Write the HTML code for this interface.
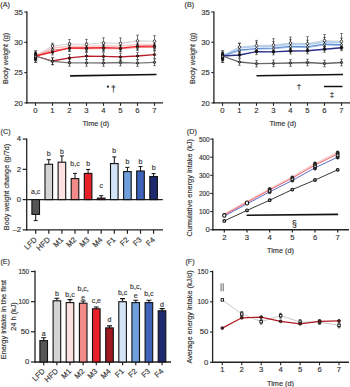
<!DOCTYPE html>
<html><head><meta charset="utf-8"><style>
html,body{margin:0;padding:0;background:#fff;}
svg{display:block;font-family:"Liberation Sans", sans-serif;} text{stroke:#3a3a3a;stroke-width:0.16px;}
</style></head><body>
<svg width="350" height="387" viewBox="0 0 350 387">
<rect width="350" height="387" fill="#fff"/>
<text x="0.30" y="6.90" font-size="7.2" text-anchor="start" fill="#333">(A)</text>
<line x1="26.90" y1="11.40" x2="26.90" y2="103.60" stroke="#222" stroke-width="1.3"/>
<line x1="26.30" y1="102.90" x2="163.00" y2="102.90" stroke="#222" stroke-width="1.4"/>
<line x1="24.30" y1="12.00" x2="26.90" y2="12.00" stroke="#222" stroke-width="1.1"/>
<text x="22.90" y="14.60" font-size="7.7" text-anchor="end" fill="#333">35</text>
<line x1="24.30" y1="42.30" x2="26.90" y2="42.30" stroke="#222" stroke-width="1.1"/>
<text x="22.90" y="44.90" font-size="7.7" text-anchor="end" fill="#333">30</text>
<line x1="24.30" y1="72.60" x2="26.90" y2="72.60" stroke="#222" stroke-width="1.1"/>
<text x="22.90" y="75.20" font-size="7.7" text-anchor="end" fill="#333">25</text>
<line x1="24.30" y1="102.90" x2="26.90" y2="102.90" stroke="#222" stroke-width="1.1"/>
<text x="22.90" y="105.50" font-size="7.7" text-anchor="end" fill="#333">20</text>
<line x1="35.50" y1="103.00" x2="35.50" y2="105.80" stroke="#222" stroke-width="1.1"/>
<text x="35.50" y="112.90" font-size="7.7" text-anchor="middle" fill="#333">0</text>
<line x1="52.50" y1="103.00" x2="52.50" y2="105.80" stroke="#222" stroke-width="1.1"/>
<text x="52.50" y="112.90" font-size="7.7" text-anchor="middle" fill="#333">1</text>
<line x1="69.50" y1="103.00" x2="69.50" y2="105.80" stroke="#222" stroke-width="1.1"/>
<text x="69.50" y="112.90" font-size="7.7" text-anchor="middle" fill="#333">2</text>
<line x1="86.50" y1="103.00" x2="86.50" y2="105.80" stroke="#222" stroke-width="1.1"/>
<text x="86.50" y="112.90" font-size="7.7" text-anchor="middle" fill="#333">3</text>
<line x1="103.50" y1="103.00" x2="103.50" y2="105.80" stroke="#222" stroke-width="1.1"/>
<text x="103.50" y="112.90" font-size="7.7" text-anchor="middle" fill="#333">4</text>
<line x1="120.50" y1="103.00" x2="120.50" y2="105.80" stroke="#222" stroke-width="1.1"/>
<text x="120.50" y="112.90" font-size="7.7" text-anchor="middle" fill="#333">5</text>
<line x1="137.50" y1="103.00" x2="137.50" y2="105.80" stroke="#222" stroke-width="1.1"/>
<text x="137.50" y="112.90" font-size="7.7" text-anchor="middle" fill="#333">6</text>
<line x1="154.50" y1="103.00" x2="154.50" y2="105.80" stroke="#222" stroke-width="1.1"/>
<text x="154.50" y="112.90" font-size="7.7" text-anchor="middle" fill="#333">7</text>
<text x="95.85" y="125.50" font-size="7.7" text-anchor="middle" fill="#333" textLength="26.9" lengthAdjust="spacingAndGlyphs">Time (d)</text>
<text x="8.3" y="58.4" font-size="7.4" text-anchor="middle" fill="#333" textLength="51.3" lengthAdjust="spacingAndGlyphs" transform="rotate(-90 8.3 58.4)">Body weight (g)</text>
<polyline points="35.5,56.0 52.5,46.0 69.5,44.0 86.5,44.3 103.5,43.0 120.5,43.4 137.5,40.9 154.5,41.2" fill="none" stroke="#d8d4d4" stroke-width="1.1"/>
<polyline points="35.5,56.0 52.5,48.0 69.5,46.4 86.5,46.5 103.5,45.8 120.5,46.0 137.5,44.5 154.5,44.8" fill="none" stroke="#f9c8c8" stroke-width="1.6"/>
<polyline points="35.5,56.0 52.5,50.0 69.5,48.5 86.5,48.8 103.5,48.6 120.5,48.8 137.5,47.5 154.5,47.5" fill="none" stroke="#f08a8a" stroke-width="1.0"/>
<polyline points="35.5,56.0 52.5,52.0 69.5,47.9 86.5,48.0 103.5,47.6 120.5,48.2 137.5,46.3 154.5,46.2" fill="none" stroke="#ee2028" stroke-width="1.3"/>
<polyline points="35.5,56.0 52.5,61.0 69.5,57.9 86.5,56.1 103.5,56.4 120.5,56.9 137.5,56.0 154.5,54.6" fill="none" stroke="#b41c28" stroke-width="1.3"/>
<polyline points="35.5,56.0 52.5,61.4 69.5,62.9 86.5,62.9 103.5,63.0 120.5,62.5 137.5,63.1 154.5,62.3" fill="none" stroke="#7a7a7a" stroke-width="1.3"/>
<path d="M52.5,43.2V48.8M51.2,43.2H53.8M51.2,48.8H53.8" stroke="#222" stroke-width="0.6" fill="none"/>
<path d="M69.5,39.5V48.5M68.2,39.5H70.8M68.2,48.5H70.8" stroke="#222" stroke-width="0.6" fill="none"/>
<path d="M86.5,39.4V49.2M85.2,39.4H87.8M85.2,49.2H87.8" stroke="#222" stroke-width="0.6" fill="none"/>
<path d="M103.5,37.8V48.2M102.2,37.8H104.8M102.2,48.2H104.8" stroke="#222" stroke-width="0.6" fill="none"/>
<path d="M120.5,37.9V48.9M119.2,37.9H121.8M119.2,48.9H121.8" stroke="#222" stroke-width="0.6" fill="none"/>
<path d="M137.5,35.1V46.7M136.2,35.1H138.8M136.2,46.7H138.8" stroke="#222" stroke-width="0.6" fill="none"/>
<path d="M154.5,35.7V46.7M153.2,35.7H155.8M153.2,46.7H155.8" stroke="#222" stroke-width="0.6" fill="none"/>
<path d="M52.5,44.5V51.5M51.2,44.5H53.8M51.2,51.5H53.8" stroke="#222" stroke-width="0.6" fill="none"/>
<path d="M69.5,42.9V49.9M68.2,42.9H70.8M68.2,49.9H70.8" stroke="#222" stroke-width="0.6" fill="none"/>
<path d="M86.5,43.0V50.0M85.2,43.0H87.8M85.2,50.0H87.8" stroke="#222" stroke-width="0.6" fill="none"/>
<path d="M103.5,42.3V49.3M102.2,42.3H104.8M102.2,49.3H104.8" stroke="#222" stroke-width="0.6" fill="none"/>
<path d="M120.5,42.5V49.5M119.2,42.5H121.8M119.2,49.5H121.8" stroke="#222" stroke-width="0.6" fill="none"/>
<path d="M137.5,41.0V48.0M136.2,41.0H138.8M136.2,48.0H138.8" stroke="#222" stroke-width="0.6" fill="none"/>
<path d="M154.5,41.3V48.3M153.2,41.3H155.8M153.2,48.3H155.8" stroke="#222" stroke-width="0.6" fill="none"/>
<path d="M52.5,47.0V53.0M51.2,47.0H53.8M51.2,53.0H53.8" stroke="#222" stroke-width="0.6" fill="none"/>
<path d="M69.5,45.5V51.5M68.2,45.5H70.8M68.2,51.5H70.8" stroke="#222" stroke-width="0.6" fill="none"/>
<path d="M86.5,45.8V51.8M85.2,45.8H87.8M85.2,51.8H87.8" stroke="#222" stroke-width="0.6" fill="none"/>
<path d="M103.5,45.6V51.6M102.2,45.6H104.8M102.2,51.6H104.8" stroke="#222" stroke-width="0.6" fill="none"/>
<path d="M120.5,45.8V51.8M119.2,45.8H121.8M119.2,51.8H121.8" stroke="#222" stroke-width="0.6" fill="none"/>
<path d="M137.5,44.5V50.5M136.2,44.5H138.8M136.2,50.5H138.8" stroke="#222" stroke-width="0.6" fill="none"/>
<path d="M154.5,44.5V50.5M153.2,44.5H155.8M153.2,50.5H155.8" stroke="#222" stroke-width="0.6" fill="none"/>
<path d="M52.5,49.0V55.0M51.2,49.0H53.8M51.2,55.0H53.8" stroke="#222" stroke-width="0.6" fill="none"/>
<path d="M69.5,44.9V50.9M68.2,44.9H70.8M68.2,50.9H70.8" stroke="#222" stroke-width="0.6" fill="none"/>
<path d="M86.5,45.0V51.0M85.2,45.0H87.8M85.2,51.0H87.8" stroke="#222" stroke-width="0.6" fill="none"/>
<path d="M103.5,44.6V50.6M102.2,44.6H104.8M102.2,50.6H104.8" stroke="#222" stroke-width="0.6" fill="none"/>
<path d="M120.5,45.2V51.2M119.2,45.2H121.8M119.2,51.2H121.8" stroke="#222" stroke-width="0.6" fill="none"/>
<path d="M137.5,43.3V49.3M136.2,43.3H138.8M136.2,49.3H138.8" stroke="#222" stroke-width="0.6" fill="none"/>
<path d="M154.5,43.2V49.2M153.2,43.2H155.8M153.2,49.2H155.8" stroke="#222" stroke-width="0.6" fill="none"/>
<path d="M52.5,57.4V64.6M51.2,57.4H53.8M51.2,64.6H53.8" stroke="#222" stroke-width="0.6" fill="none"/>
<path d="M69.5,54.3V61.5M68.2,54.3H70.8M68.2,61.5H70.8" stroke="#222" stroke-width="0.6" fill="none"/>
<path d="M86.5,52.5V59.7M85.2,52.5H87.8M85.2,59.7H87.8" stroke="#222" stroke-width="0.6" fill="none"/>
<path d="M103.5,52.8V60.0M102.2,52.8H104.8M102.2,60.0H104.8" stroke="#222" stroke-width="0.6" fill="none"/>
<path d="M120.5,53.3V60.5M119.2,53.3H121.8M119.2,60.5H121.8" stroke="#222" stroke-width="0.6" fill="none"/>
<path d="M137.5,52.4V59.6M136.2,52.4H138.8M136.2,59.6H138.8" stroke="#222" stroke-width="0.6" fill="none"/>
<path d="M154.5,51.0V58.2M153.2,51.0H155.8M153.2,58.2H155.8" stroke="#222" stroke-width="0.6" fill="none"/>
<path d="M52.5,58.1V64.7M51.2,58.1H53.8M51.2,64.7H53.8" stroke="#222" stroke-width="0.6" fill="none"/>
<path d="M69.5,59.6V66.2M68.2,59.6H70.8M68.2,66.2H70.8" stroke="#222" stroke-width="0.6" fill="none"/>
<path d="M86.5,59.6V66.2M85.2,59.6H87.8M85.2,66.2H87.8" stroke="#222" stroke-width="0.6" fill="none"/>
<path d="M103.5,59.7V66.3M102.2,59.7H104.8M102.2,66.3H104.8" stroke="#222" stroke-width="0.6" fill="none"/>
<path d="M120.5,59.2V65.8M119.2,59.2H121.8M119.2,65.8H121.8" stroke="#222" stroke-width="0.6" fill="none"/>
<path d="M137.5,59.8V66.4M136.2,59.8H138.8M136.2,66.4H138.8" stroke="#222" stroke-width="0.6" fill="none"/>
<path d="M154.5,59.0V65.6M153.2,59.0H155.8M153.2,65.6H155.8" stroke="#222" stroke-width="0.6" fill="none"/>
<circle cx="52.5" cy="46.0" r="1.3" fill="#fff" stroke="#111" stroke-width="0.7"/>
<circle cx="69.5" cy="44.0" r="1.3" fill="#fff" stroke="#111" stroke-width="0.7"/>
<circle cx="86.5" cy="44.3" r="1.3" fill="#fff" stroke="#111" stroke-width="0.7"/>
<circle cx="103.5" cy="43.0" r="1.3" fill="#fff" stroke="#111" stroke-width="0.7"/>
<circle cx="120.5" cy="43.4" r="1.3" fill="#fff" stroke="#111" stroke-width="0.7"/>
<circle cx="137.5" cy="40.9" r="1.3" fill="#fff" stroke="#111" stroke-width="0.7"/>
<circle cx="154.5" cy="41.2" r="1.3" fill="#fff" stroke="#111" stroke-width="0.7"/>
<circle cx="52.5" cy="50.0" r="1.0" fill="#fff" stroke="#111" stroke-width="0.7"/>
<circle cx="69.5" cy="48.5" r="1.0" fill="#fff" stroke="#111" stroke-width="0.7"/>
<circle cx="86.5" cy="48.8" r="1.0" fill="#fff" stroke="#111" stroke-width="0.7"/>
<circle cx="103.5" cy="48.6" r="1.0" fill="#fff" stroke="#111" stroke-width="0.7"/>
<circle cx="120.5" cy="48.8" r="1.0" fill="#fff" stroke="#111" stroke-width="0.7"/>
<circle cx="137.5" cy="47.5" r="1.0" fill="#fff" stroke="#111" stroke-width="0.7"/>
<circle cx="154.5" cy="47.5" r="1.0" fill="#fff" stroke="#111" stroke-width="0.7"/>
<circle cx="52.5" cy="52.0" r="1.2" fill="#5a1015" stroke="#111" stroke-width="0.7"/>
<circle cx="69.5" cy="47.9" r="1.2" fill="#5a1015" stroke="#111" stroke-width="0.7"/>
<circle cx="86.5" cy="48.0" r="1.2" fill="#5a1015" stroke="#111" stroke-width="0.7"/>
<circle cx="103.5" cy="47.6" r="1.2" fill="#5a1015" stroke="#111" stroke-width="0.7"/>
<circle cx="120.5" cy="48.2" r="1.2" fill="#5a1015" stroke="#111" stroke-width="0.7"/>
<circle cx="137.5" cy="46.3" r="1.2" fill="#5a1015" stroke="#111" stroke-width="0.7"/>
<circle cx="154.5" cy="46.2" r="1.2" fill="#5a1015" stroke="#111" stroke-width="0.7"/>
<circle cx="52.5" cy="61.0" r="1.2" fill="#7a1018" stroke="#111" stroke-width="0.7"/>
<circle cx="69.5" cy="57.9" r="1.2" fill="#7a1018" stroke="#111" stroke-width="0.7"/>
<circle cx="86.5" cy="56.1" r="1.2" fill="#7a1018" stroke="#111" stroke-width="0.7"/>
<circle cx="103.5" cy="56.4" r="1.2" fill="#7a1018" stroke="#111" stroke-width="0.7"/>
<circle cx="120.5" cy="56.9" r="1.2" fill="#7a1018" stroke="#111" stroke-width="0.7"/>
<circle cx="137.5" cy="56.0" r="1.2" fill="#7a1018" stroke="#111" stroke-width="0.7"/>
<circle cx="154.5" cy="54.6" r="1.2" fill="#7a1018" stroke="#111" stroke-width="0.7"/>
<circle cx="52.5" cy="61.4" r="1.2" fill="#777" stroke="#111" stroke-width="0.7"/>
<circle cx="69.5" cy="62.9" r="1.2" fill="#777" stroke="#111" stroke-width="0.7"/>
<circle cx="86.5" cy="62.9" r="1.2" fill="#777" stroke="#111" stroke-width="0.7"/>
<circle cx="103.5" cy="63.0" r="1.2" fill="#777" stroke="#111" stroke-width="0.7"/>
<circle cx="120.5" cy="62.5" r="1.2" fill="#777" stroke="#111" stroke-width="0.7"/>
<circle cx="137.5" cy="63.1" r="1.2" fill="#777" stroke="#111" stroke-width="0.7"/>
<circle cx="154.5" cy="62.3" r="1.2" fill="#777" stroke="#111" stroke-width="0.7"/>
<path d="M35.6,50.9V62.3M34.0,50.9H37.2M34.0,62.3H37.2" stroke="#222" stroke-width="0.9" fill="none"/>
<rect x="34.0" y="52.0" width="3.2" height="9.2" rx="1.4" fill="#1a1a1a"/>
<circle cx="35.6" cy="56.4" r="0.8" fill="#999"/>
<line x1="70.10" y1="75.90" x2="156.50" y2="74.50" stroke="#111" stroke-width="1.6"/>
<circle cx="107.9" cy="86.7" r="1.1" fill="#222"/>
<text x="113.40" y="91.90" font-size="8.6" text-anchor="middle" fill="#222">†</text>
<text x="184.60" y="6.90" font-size="7.2" text-anchor="start" fill="#333">(B)</text>
<line x1="213.90" y1="11.40" x2="213.90" y2="103.60" stroke="#222" stroke-width="1.3"/>
<line x1="213.30" y1="102.90" x2="350.00" y2="102.90" stroke="#222" stroke-width="1.4"/>
<line x1="211.30" y1="12.00" x2="213.90" y2="12.00" stroke="#222" stroke-width="1.1"/>
<text x="209.90" y="14.60" font-size="7.7" text-anchor="end" fill="#333">35</text>
<line x1="211.30" y1="42.30" x2="213.90" y2="42.30" stroke="#222" stroke-width="1.1"/>
<text x="209.90" y="44.90" font-size="7.7" text-anchor="end" fill="#333">30</text>
<line x1="211.30" y1="72.60" x2="213.90" y2="72.60" stroke="#222" stroke-width="1.1"/>
<text x="209.90" y="75.20" font-size="7.7" text-anchor="end" fill="#333">25</text>
<line x1="211.30" y1="102.90" x2="213.90" y2="102.90" stroke="#222" stroke-width="1.1"/>
<text x="209.90" y="105.50" font-size="7.7" text-anchor="end" fill="#333">20</text>
<line x1="222.50" y1="103.00" x2="222.50" y2="105.80" stroke="#222" stroke-width="1.1"/>
<text x="222.50" y="112.90" font-size="7.7" text-anchor="middle" fill="#333">0</text>
<line x1="239.50" y1="103.00" x2="239.50" y2="105.80" stroke="#222" stroke-width="1.1"/>
<text x="239.50" y="112.90" font-size="7.7" text-anchor="middle" fill="#333">1</text>
<line x1="256.50" y1="103.00" x2="256.50" y2="105.80" stroke="#222" stroke-width="1.1"/>
<text x="256.50" y="112.90" font-size="7.7" text-anchor="middle" fill="#333">2</text>
<line x1="273.50" y1="103.00" x2="273.50" y2="105.80" stroke="#222" stroke-width="1.1"/>
<text x="273.50" y="112.90" font-size="7.7" text-anchor="middle" fill="#333">3</text>
<line x1="290.50" y1="103.00" x2="290.50" y2="105.80" stroke="#222" stroke-width="1.1"/>
<text x="290.50" y="112.90" font-size="7.7" text-anchor="middle" fill="#333">4</text>
<line x1="307.50" y1="103.00" x2="307.50" y2="105.80" stroke="#222" stroke-width="1.1"/>
<text x="307.50" y="112.90" font-size="7.7" text-anchor="middle" fill="#333">5</text>
<line x1="324.50" y1="103.00" x2="324.50" y2="105.80" stroke="#222" stroke-width="1.1"/>
<text x="324.50" y="112.90" font-size="7.7" text-anchor="middle" fill="#333">6</text>
<line x1="341.50" y1="103.00" x2="341.50" y2="105.80" stroke="#222" stroke-width="1.1"/>
<text x="341.50" y="112.90" font-size="7.7" text-anchor="middle" fill="#333">7</text>
<text x="282.85" y="125.50" font-size="7.7" text-anchor="middle" fill="#333" textLength="26.9" lengthAdjust="spacingAndGlyphs">Time (d)</text>
<text x="195.10000000000002" y="58.4" font-size="7.4" text-anchor="middle" fill="#333" textLength="51.3" lengthAdjust="spacingAndGlyphs" transform="rotate(-90 195.10000000000002 58.4)">Body weight (g)</text>
<polyline points="222.5,56.0 239.5,47.0 256.5,45.6 273.5,45.2 290.5,43.0 307.5,43.7 324.5,40.6 341.5,41.4" fill="none" stroke="#d4d4d4" stroke-width="1.2"/>
<polyline points="222.5,56.0 239.5,47.8 256.5,46.4 273.5,46.0 290.5,44.0 307.5,44.5 324.5,41.8 341.5,42.4" fill="none" stroke="#b4d0f0" stroke-width="1.8"/>
<polyline points="222.5,56.0 239.5,50.0 256.5,48.6 273.5,48.2 290.5,46.4 307.5,46.9 324.5,44.2 341.5,44.7" fill="none" stroke="#5a88d0" stroke-width="1.2"/>
<polyline points="222.5,56.0 239.5,50.8 256.5,49.2 273.5,48.8 290.5,47.2 307.5,47.6 324.5,45.0 341.5,45.5" fill="none" stroke="#8aaee0" stroke-width="0.8"/>
<polyline points="222.5,56.0 239.5,55.0 256.5,51.6 273.5,51.9 290.5,51.0 307.5,50.8 324.5,49.2 341.5,47.7" fill="none" stroke="#2a2e88" stroke-width="1.4"/>
<polyline points="222.5,56.0 239.5,62.0 256.5,63.6 273.5,63.4 290.5,63.0 307.5,62.5 324.5,63.5 341.5,62.5" fill="none" stroke="#666" stroke-width="1.3"/>
<path d="M239.5,43.0V51.0M238.2,43.0H240.8M238.2,51.0H240.8" stroke="#222" stroke-width="0.6" fill="none"/>
<path d="M256.5,40.4V50.8M255.2,40.4H257.8M255.2,50.8H257.8" stroke="#222" stroke-width="0.6" fill="none"/>
<path d="M273.5,38.7V51.7M272.2,38.7H274.8M272.2,51.7H274.8" stroke="#222" stroke-width="0.6" fill="none"/>
<path d="M290.5,37.0V49.0M289.2,37.0H291.8M289.2,49.0H291.8" stroke="#222" stroke-width="0.6" fill="none"/>
<path d="M307.5,36.7V50.7M306.2,36.7H308.8M306.2,50.7H308.8" stroke="#222" stroke-width="0.6" fill="none"/>
<path d="M324.5,34.6V46.6M323.2,34.6H325.8M323.2,46.6H325.8" stroke="#222" stroke-width="0.6" fill="none"/>
<path d="M341.5,33.5V49.3M340.2,33.5H342.8M340.2,49.3H342.8" stroke="#222" stroke-width="0.6" fill="none"/>
<path d="M239.5,43.5V52.1M238.2,43.5H240.8M238.2,52.1H240.8" stroke="#222" stroke-width="0.6" fill="none"/>
<path d="M256.5,42.1V50.7M255.2,42.1H257.8M255.2,50.7H257.8" stroke="#222" stroke-width="0.6" fill="none"/>
<path d="M273.5,41.7V50.3M272.2,41.7H274.8M272.2,50.3H274.8" stroke="#222" stroke-width="0.6" fill="none"/>
<path d="M290.5,39.7V48.3M289.2,39.7H291.8M289.2,48.3H291.8" stroke="#222" stroke-width="0.6" fill="none"/>
<path d="M307.5,40.2V48.8M306.2,40.2H308.8M306.2,48.8H308.8" stroke="#222" stroke-width="0.6" fill="none"/>
<path d="M324.5,37.5V46.1M323.2,37.5H325.8M323.2,46.1H325.8" stroke="#222" stroke-width="0.6" fill="none"/>
<path d="M341.5,38.1V46.7M340.2,38.1H342.8M340.2,46.7H342.8" stroke="#222" stroke-width="0.6" fill="none"/>
<path d="M239.5,47.0V53.0M238.2,47.0H240.8M238.2,53.0H240.8" stroke="#222" stroke-width="0.6" fill="none"/>
<path d="M256.5,45.6V51.6M255.2,45.6H257.8M255.2,51.6H257.8" stroke="#222" stroke-width="0.6" fill="none"/>
<path d="M273.5,45.2V51.2M272.2,45.2H274.8M272.2,51.2H274.8" stroke="#222" stroke-width="0.6" fill="none"/>
<path d="M290.5,43.4V49.4M289.2,43.4H291.8M289.2,49.4H291.8" stroke="#222" stroke-width="0.6" fill="none"/>
<path d="M307.5,43.9V49.9M306.2,43.9H308.8M306.2,49.9H308.8" stroke="#222" stroke-width="0.6" fill="none"/>
<path d="M324.5,41.2V47.2M323.2,41.2H325.8M323.2,47.2H325.8" stroke="#222" stroke-width="0.6" fill="none"/>
<path d="M341.5,41.7V47.7M340.2,41.7H342.8M340.2,47.7H342.8" stroke="#222" stroke-width="0.6" fill="none"/>
<path d="M239.5,52.0V58.0M238.2,52.0H240.8M238.2,58.0H240.8" stroke="#222" stroke-width="0.6" fill="none"/>
<path d="M256.5,48.6V54.6M255.2,48.6H257.8M255.2,54.6H257.8" stroke="#222" stroke-width="0.6" fill="none"/>
<path d="M273.5,48.9V54.9M272.2,48.9H274.8M272.2,54.9H274.8" stroke="#222" stroke-width="0.6" fill="none"/>
<path d="M290.5,48.0V54.0M289.2,48.0H291.8M289.2,54.0H291.8" stroke="#222" stroke-width="0.6" fill="none"/>
<path d="M307.5,47.8V53.8M306.2,47.8H308.8M306.2,53.8H308.8" stroke="#222" stroke-width="0.6" fill="none"/>
<path d="M324.5,46.2V52.2M323.2,46.2H325.8M323.2,52.2H325.8" stroke="#222" stroke-width="0.6" fill="none"/>
<path d="M341.5,44.7V50.7M340.2,44.7H342.8M340.2,50.7H342.8" stroke="#222" stroke-width="0.6" fill="none"/>
<path d="M239.5,58.7V65.3M238.2,58.7H240.8M238.2,65.3H240.8" stroke="#222" stroke-width="0.6" fill="none"/>
<path d="M256.5,60.3V66.9M255.2,60.3H257.8M255.2,66.9H257.8" stroke="#222" stroke-width="0.6" fill="none"/>
<path d="M273.5,60.1V66.7M272.2,60.1H274.8M272.2,66.7H274.8" stroke="#222" stroke-width="0.6" fill="none"/>
<path d="M290.5,59.7V66.3M289.2,59.7H291.8M289.2,66.3H291.8" stroke="#222" stroke-width="0.6" fill="none"/>
<path d="M307.5,59.2V65.8M306.2,59.2H308.8M306.2,65.8H308.8" stroke="#222" stroke-width="0.6" fill="none"/>
<path d="M324.5,60.2V66.8M323.2,60.2H325.8M323.2,66.8H325.8" stroke="#222" stroke-width="0.6" fill="none"/>
<path d="M341.5,59.2V65.8M340.2,59.2H342.8M340.2,65.8H342.8" stroke="#222" stroke-width="0.6" fill="none"/>
<circle cx="239.5" cy="47.0" r="1.3" fill="#fff" stroke="#111" stroke-width="0.7"/>
<circle cx="256.5" cy="45.6" r="1.3" fill="#fff" stroke="#111" stroke-width="0.7"/>
<circle cx="273.5" cy="45.2" r="1.3" fill="#fff" stroke="#111" stroke-width="0.7"/>
<circle cx="290.5" cy="43.0" r="1.3" fill="#fff" stroke="#111" stroke-width="0.7"/>
<circle cx="307.5" cy="43.7" r="1.3" fill="#fff" stroke="#111" stroke-width="0.7"/>
<circle cx="324.5" cy="40.6" r="1.3" fill="#fff" stroke="#111" stroke-width="0.7"/>
<circle cx="341.5" cy="41.4" r="1.3" fill="#fff" stroke="#111" stroke-width="0.7"/>
<circle cx="239.5" cy="50.0" r="1.0" fill="#fff" stroke="#111" stroke-width="0.7"/>
<circle cx="256.5" cy="48.6" r="1.0" fill="#fff" stroke="#111" stroke-width="0.7"/>
<circle cx="273.5" cy="48.2" r="1.0" fill="#fff" stroke="#111" stroke-width="0.7"/>
<circle cx="290.5" cy="46.4" r="1.0" fill="#fff" stroke="#111" stroke-width="0.7"/>
<circle cx="307.5" cy="46.9" r="1.0" fill="#fff" stroke="#111" stroke-width="0.7"/>
<circle cx="324.5" cy="44.2" r="1.0" fill="#fff" stroke="#111" stroke-width="0.7"/>
<circle cx="341.5" cy="44.7" r="1.0" fill="#fff" stroke="#111" stroke-width="0.7"/>
<circle cx="239.5" cy="55.0" r="1.4" fill="#111" stroke="#111" stroke-width="0.7"/>
<circle cx="256.5" cy="51.6" r="1.4" fill="#111" stroke="#111" stroke-width="0.7"/>
<circle cx="273.5" cy="51.9" r="1.4" fill="#111" stroke="#111" stroke-width="0.7"/>
<circle cx="290.5" cy="51.0" r="1.4" fill="#111" stroke="#111" stroke-width="0.7"/>
<circle cx="307.5" cy="50.8" r="1.4" fill="#111" stroke="#111" stroke-width="0.7"/>
<circle cx="324.5" cy="49.2" r="1.4" fill="#111" stroke="#111" stroke-width="0.7"/>
<circle cx="341.5" cy="47.7" r="1.4" fill="#111" stroke="#111" stroke-width="0.7"/>
<circle cx="239.5" cy="62.0" r="1.2" fill="#777" stroke="#111" stroke-width="0.7"/>
<circle cx="256.5" cy="63.6" r="1.2" fill="#777" stroke="#111" stroke-width="0.7"/>
<circle cx="273.5" cy="63.4" r="1.2" fill="#777" stroke="#111" stroke-width="0.7"/>
<circle cx="290.5" cy="63.0" r="1.2" fill="#777" stroke="#111" stroke-width="0.7"/>
<circle cx="307.5" cy="62.5" r="1.2" fill="#777" stroke="#111" stroke-width="0.7"/>
<circle cx="324.5" cy="63.5" r="1.2" fill="#777" stroke="#111" stroke-width="0.7"/>
<circle cx="341.5" cy="62.5" r="1.2" fill="#777" stroke="#111" stroke-width="0.7"/>
<path d="M222.6,50.9V62.3M221.0,50.9H224.2M221.0,62.3H224.2" stroke="#222" stroke-width="0.9" fill="none"/>
<rect x="221.0" y="52.0" width="3.2" height="9.2" rx="1.4" fill="#1a1a1a"/>
<circle cx="222.6" cy="56.4" r="0.8" fill="#999"/>
<line x1="256.50" y1="75.80" x2="343.00" y2="74.50" stroke="#111" stroke-width="1.6"/>
<text x="299.00" y="88.50" font-size="7.8" text-anchor="middle" fill="#222">†</text>
<line x1="324.00" y1="86.50" x2="342.50" y2="86.50" stroke="#111" stroke-width="1.5"/>
<text x="332.00" y="97.20" font-size="7.8" text-anchor="middle" fill="#222">‡</text>
<text x="0.60" y="134.10" font-size="7.2" text-anchor="start" fill="#333">(C)</text>
<line x1="26.70" y1="138.50" x2="26.70" y2="230.60" stroke="#222" stroke-width="1.3"/>
<line x1="26.10" y1="229.90" x2="163.00" y2="229.90" stroke="#222" stroke-width="1.4"/>
<line x1="26.70" y1="199.60" x2="162.80" y2="199.60" stroke="#222" stroke-width="1.4"/>
<line x1="22.70" y1="139.08" x2="26.70" y2="139.08" stroke="#222" stroke-width="1.2"/>
<text x="21.10" y="141.48" font-size="7.7" text-anchor="end" fill="#333">4</text>
<line x1="22.70" y1="169.34" x2="26.70" y2="169.34" stroke="#222" stroke-width="1.2"/>
<text x="21.10" y="171.74" font-size="7.7" text-anchor="end" fill="#333">2</text>
<line x1="22.70" y1="199.60" x2="26.70" y2="199.60" stroke="#222" stroke-width="1.2"/>
<text x="21.10" y="202.00" font-size="7.7" text-anchor="end" fill="#333">0</text>
<line x1="22.70" y1="229.86" x2="26.70" y2="229.86" stroke="#222" stroke-width="1.2"/>
<text x="21.10" y="232.26" font-size="7.7" text-anchor="end" fill="#333">–2</text>
<text x="8.5" y="187.0" font-size="7.4" text-anchor="middle" fill="#333" textLength="86.3" lengthAdjust="spacingAndGlyphs" transform="rotate(-90 8.5 187.0)">Body weight change (g/7d)</text>
<path d="M35.7,214.4V220.6M33.7,220.6H37.7" stroke="#111" stroke-width="1" fill="none"/>
<rect x="31.9" y="199.6" width="7.6" height="14.8" fill="#555555" stroke="#111" stroke-width="1.1"/>
<line x1="35.70" y1="229.90" x2="35.70" y2="233.70" stroke="#222" stroke-width="1.2"/>
<text x="35.70" y="193.60" font-size="7" text-anchor="middle" fill="#333">a,c</text>
<text x="37.5" y="240.2" font-size="7.6" text-anchor="end" fill="#333" transform="rotate(-45 37.5 240.2)">LFD</text>
<path d="M48.8,164.3V159.7M46.8,159.7H50.8" stroke="#111" stroke-width="1" fill="none"/>
<rect x="45.0" y="164.3" width="7.6" height="35.3" fill="#d4d4d4" stroke="#111" stroke-width="1.1"/>
<line x1="48.80" y1="229.90" x2="48.80" y2="233.70" stroke="#222" stroke-width="1.2"/>
<text x="48.80" y="155.80" font-size="7" text-anchor="middle" fill="#333">b</text>
<text x="50.6" y="240.2" font-size="7.6" text-anchor="end" fill="#333" transform="rotate(-45 50.6 240.2)">HFD</text>
<path d="M61.9,162.2V155.9M59.9,155.9H63.9" stroke="#111" stroke-width="1" fill="none"/>
<rect x="58.1" y="162.2" width="7.6" height="37.4" fill="#fde0e0" stroke="#111" stroke-width="1.1"/>
<line x1="61.90" y1="229.90" x2="61.90" y2="233.70" stroke="#222" stroke-width="1.2"/>
<text x="61.90" y="153.70" font-size="7" text-anchor="middle" fill="#333">b</text>
<text x="63.7" y="240.2" font-size="7.6" text-anchor="end" fill="#333" transform="rotate(-45 63.7 240.2)">M1</text>
<path d="M75.0,178.6V173.4M73.0,173.4H77.0" stroke="#111" stroke-width="1" fill="none"/>
<rect x="71.2" y="178.6" width="7.6" height="21.0" fill="#f28a8a" stroke="#111" stroke-width="1.1"/>
<line x1="75.00" y1="229.90" x2="75.00" y2="233.70" stroke="#222" stroke-width="1.2"/>
<text x="75.00" y="166.40" font-size="7" text-anchor="middle" fill="#333">b,c</text>
<text x="76.8" y="240.2" font-size="7.6" text-anchor="end" fill="#333" transform="rotate(-45 76.8 240.2)">M2</text>
<path d="M88.1,173.4V169.5M86.1,169.5H90.1" stroke="#111" stroke-width="1" fill="none"/>
<rect x="84.3" y="173.4" width="7.6" height="26.2" fill="#e8202a" stroke="#111" stroke-width="1.1"/>
<line x1="88.10" y1="229.90" x2="88.10" y2="233.70" stroke="#222" stroke-width="1.2"/>
<text x="88.10" y="165.70" font-size="7" text-anchor="middle" fill="#333">b</text>
<text x="89.9" y="240.2" font-size="7.6" text-anchor="end" fill="#333" transform="rotate(-45 89.9 240.2)">M3</text>
<path d="M101.2,198.1V195.7M99.2,195.7H103.2" stroke="#111" stroke-width="1" fill="none"/>
<rect x="97.4" y="198.1" width="7.6" height="1.5" fill="#9e1a20" stroke="#111" stroke-width="1.1"/>
<line x1="101.20" y1="229.90" x2="101.20" y2="233.70" stroke="#222" stroke-width="1.2"/>
<text x="101.20" y="188.20" font-size="7" text-anchor="middle" fill="#333">c</text>
<text x="103.0" y="240.2" font-size="7.6" text-anchor="end" fill="#333" transform="rotate(-45 103.0 240.2)">M4</text>
<path d="M114.3,163.6V156.9M112.3,156.9H116.3" stroke="#111" stroke-width="1" fill="none"/>
<rect x="110.5" y="163.6" width="7.6" height="36.0" fill="#d2e4f6" stroke="#111" stroke-width="1.1"/>
<line x1="114.30" y1="229.90" x2="114.30" y2="233.70" stroke="#222" stroke-width="1.2"/>
<text x="114.30" y="152.60" font-size="7" text-anchor="middle" fill="#333">b</text>
<text x="116.1" y="240.2" font-size="7.6" text-anchor="end" fill="#333" transform="rotate(-45 116.1 240.2)">F1</text>
<path d="M127.4,171.6V167.4M125.4,167.4H129.4" stroke="#111" stroke-width="1" fill="none"/>
<rect x="123.6" y="171.6" width="7.6" height="28.0" fill="#6f9fdc" stroke="#111" stroke-width="1.1"/>
<line x1="127.40" y1="229.90" x2="127.40" y2="233.70" stroke="#222" stroke-width="1.2"/>
<text x="127.40" y="163.50" font-size="7" text-anchor="middle" fill="#333">b</text>
<text x="129.2" y="240.2" font-size="7.6" text-anchor="end" fill="#333" transform="rotate(-45 129.2 240.2)">F2</text>
<path d="M140.5,171.0V166.6M138.5,166.6H142.5" stroke="#111" stroke-width="1" fill="none"/>
<rect x="136.7" y="171.0" width="7.6" height="28.6" fill="#3f63b9" stroke="#111" stroke-width="1.1"/>
<line x1="140.50" y1="229.90" x2="140.50" y2="233.70" stroke="#222" stroke-width="1.2"/>
<text x="140.50" y="163.50" font-size="7" text-anchor="middle" fill="#333">b</text>
<text x="142.3" y="240.2" font-size="7.6" text-anchor="end" fill="#333" transform="rotate(-45 142.3 240.2)">F3</text>
<path d="M153.6,176.5V173.6M151.6,173.6H155.6" stroke="#111" stroke-width="1" fill="none"/>
<rect x="149.8" y="176.5" width="7.6" height="23.1" fill="#1f2a6e" stroke="#111" stroke-width="1.1"/>
<line x1="153.60" y1="229.90" x2="153.60" y2="233.70" stroke="#222" stroke-width="1.2"/>
<text x="153.60" y="169.70" font-size="7" text-anchor="middle" fill="#333">b</text>
<text x="155.4" y="240.2" font-size="7.6" text-anchor="end" fill="#333" transform="rotate(-45 155.4 240.2)">F4</text>
<text x="186.80" y="134.40" font-size="7.2" text-anchor="start" fill="#333">(D)</text>
<line x1="212.90" y1="138.60" x2="212.90" y2="230.40" stroke="#222" stroke-width="1.3"/>
<line x1="212.30" y1="229.70" x2="349.00" y2="229.70" stroke="#222" stroke-width="1.4"/>
<line x1="210.30" y1="229.70" x2="212.90" y2="229.70" stroke="#222" stroke-width="1.1"/>
<text x="209.70" y="232.10" font-size="7.7" text-anchor="end" fill="#333">0</text>
<line x1="210.30" y1="211.58" x2="212.90" y2="211.58" stroke="#222" stroke-width="1.1"/>
<text x="209.70" y="213.98" font-size="7.7" text-anchor="end" fill="#333" textLength="10.8" lengthAdjust="spacingAndGlyphs">100</text>
<line x1="210.30" y1="193.46" x2="212.90" y2="193.46" stroke="#222" stroke-width="1.1"/>
<text x="209.70" y="195.86" font-size="7.7" text-anchor="end" fill="#333" textLength="10.8" lengthAdjust="spacingAndGlyphs">200</text>
<line x1="210.30" y1="175.34" x2="212.90" y2="175.34" stroke="#222" stroke-width="1.1"/>
<text x="209.70" y="177.74" font-size="7.7" text-anchor="end" fill="#333" textLength="10.8" lengthAdjust="spacingAndGlyphs">300</text>
<line x1="210.30" y1="157.22" x2="212.90" y2="157.22" stroke="#222" stroke-width="1.1"/>
<text x="209.70" y="159.62" font-size="7.7" text-anchor="end" fill="#333" textLength="10.8" lengthAdjust="spacingAndGlyphs">400</text>
<line x1="210.30" y1="139.10" x2="212.90" y2="139.10" stroke="#222" stroke-width="1.1"/>
<text x="209.70" y="141.50" font-size="7.7" text-anchor="end" fill="#333" textLength="10.8" lengthAdjust="spacingAndGlyphs">500</text>
<line x1="224.30" y1="229.70" x2="224.30" y2="232.60" stroke="#222" stroke-width="1.2"/>
<text x="224.30" y="240.30" font-size="7.7" text-anchor="middle" fill="#333">2</text>
<line x1="246.98" y1="229.70" x2="246.98" y2="232.60" stroke="#222" stroke-width="1.2"/>
<text x="246.98" y="240.30" font-size="7.7" text-anchor="middle" fill="#333">3</text>
<line x1="269.66" y1="229.70" x2="269.66" y2="232.60" stroke="#222" stroke-width="1.2"/>
<text x="269.66" y="240.30" font-size="7.7" text-anchor="middle" fill="#333">4</text>
<line x1="292.34" y1="229.70" x2="292.34" y2="232.60" stroke="#222" stroke-width="1.2"/>
<text x="292.34" y="240.30" font-size="7.7" text-anchor="middle" fill="#333">5</text>
<line x1="315.02" y1="229.70" x2="315.02" y2="232.60" stroke="#222" stroke-width="1.2"/>
<text x="315.02" y="240.30" font-size="7.7" text-anchor="middle" fill="#333">6</text>
<line x1="337.70" y1="229.70" x2="337.70" y2="232.60" stroke="#222" stroke-width="1.2"/>
<text x="337.70" y="240.30" font-size="7.7" text-anchor="middle" fill="#333">7</text>
<text x="280.50" y="252.50" font-size="7.7" text-anchor="middle" fill="#333" textLength="26.9" lengthAdjust="spacingAndGlyphs">Time (d)</text>
<text x="191.9" y="187.8" font-size="7.4" text-anchor="middle" fill="#333" textLength="97.6" lengthAdjust="spacingAndGlyphs" transform="rotate(-90 191.9 187.8)">Cumulative energy intake (kJ)</text>
<polyline points="224.3,214.2 247.0,201.6 269.7,188.9 292.3,177.1 315.0,163.8 337.7,152.6" fill="none" stroke="#f8cccc" stroke-width="1.7"/>
<polyline points="224.3,214.9 247.0,202.4 269.7,189.9 292.3,178.2 315.0,165.1 337.7,154.0" fill="none" stroke="#e03040" stroke-width="0.7"/>
<polyline points="224.3,216.0 247.0,203.9 269.7,191.8 292.3,180.5 315.0,167.8 337.7,157.1" fill="none" stroke="#3848b8" stroke-width="0.8"/>
<polyline points="224.3,220.9 247.0,210.4 269.7,200.2 292.3,189.6 315.0,180.0 337.7,169.8" fill="none" stroke="#222" stroke-width="0.9"/>
<rect x="222.70" y="213.60" width="3.2" height="3.60" rx="1.5" fill="#fff" stroke="#111" stroke-width="1.1"/>
<circle cx="224.3" cy="220.9" r="1.35" fill="#bbb" stroke="#111" stroke-width="1.1"/>
<rect x="245.38" y="201.00" width="3.2" height="4.00" rx="1.5" fill="#fff" stroke="#111" stroke-width="1.1"/>
<circle cx="247.0" cy="210.4" r="1.35" fill="#bbb" stroke="#111" stroke-width="1.1"/>
<rect x="268.21" y="187.60" width="2.9" height="6.00" rx="1.3" fill="#2a2a2a" stroke="#111" stroke-width="0.8"/>
<circle cx="269.66" cy="190.90" r="0.8" fill="#eee"/>
<circle cx="269.7" cy="200.2" r="1.35" fill="#bbb" stroke="#111" stroke-width="1.1"/>
<rect x="290.89" y="176.00" width="2.9" height="6.00" rx="1.3" fill="#2a2a2a" stroke="#111" stroke-width="0.8"/>
<circle cx="292.34" cy="179.30" r="0.8" fill="#eee"/>
<circle cx="292.3" cy="189.6" r="1.35" fill="#bbb" stroke="#111" stroke-width="1.1"/>
<rect x="313.57" y="162.00" width="2.9" height="8.00" rx="1.3" fill="#2a2a2a" stroke="#111" stroke-width="0.8"/>
<circle cx="315.02" cy="166.30" r="0.8" fill="#eee"/>
<circle cx="315.0" cy="180.0" r="1.35" fill="#bbb" stroke="#111" stroke-width="1.1"/>
<rect x="336.25" y="151.00" width="2.9" height="8.00" rx="1.3" fill="#2a2a2a" stroke="#111" stroke-width="0.8"/>
<circle cx="337.70" cy="155.30" r="0.8" fill="#eee"/>
<circle cx="337.7" cy="169.8" r="1.35" fill="#bbb" stroke="#111" stroke-width="1.1"/>
<line x1="246.60" y1="215.30" x2="338.10" y2="214.40" stroke="#111" stroke-width="1.6"/>
<text x="294.40" y="226.50" font-size="8.6" text-anchor="middle" fill="#222">§</text>
<text x="0.40" y="263.50" font-size="7.2" text-anchor="start" fill="#333">(E)</text>
<line x1="35.00" y1="270.60" x2="35.00" y2="362.70" stroke="#222" stroke-width="1.3"/>
<line x1="34.40" y1="362.00" x2="171.00" y2="362.00" stroke="#222" stroke-width="1.4"/>
<line x1="31.00" y1="362.00" x2="35.00" y2="362.00" stroke="#222" stroke-width="1.2"/>
<text x="29.20" y="364.40" font-size="7.7" text-anchor="end" fill="#333">0</text>
<line x1="31.00" y1="331.83" x2="35.00" y2="331.83" stroke="#222" stroke-width="1.2"/>
<text x="29.20" y="334.23" font-size="7.7" text-anchor="end" fill="#333">50</text>
<line x1="31.00" y1="301.67" x2="35.00" y2="301.67" stroke="#222" stroke-width="1.2"/>
<text x="29.20" y="304.07" font-size="7.7" text-anchor="end" fill="#333" textLength="10.8" lengthAdjust="spacingAndGlyphs">100</text>
<line x1="31.00" y1="271.50" x2="35.00" y2="271.50" stroke="#222" stroke-width="1.2"/>
<text x="29.20" y="273.90" font-size="7.7" text-anchor="end" fill="#333" textLength="10.8" lengthAdjust="spacingAndGlyphs">150</text>
<text x="6.4" y="319.6" font-size="7.6" text-anchor="middle" fill="#333" textLength="79.5" lengthAdjust="spacingAndGlyphs" transform="rotate(-90 6.4 319.6)">Energy intake in the first</text>
<text x="15.6" y="316.5" font-size="7.6" text-anchor="middle" fill="#333" textLength="28.5" lengthAdjust="spacingAndGlyphs" transform="rotate(-90 15.6 316.5)">24 h (kJ)</text>
<path d="M43.7,340.6V337.8M41.2,337.8H46.2" stroke="#111" stroke-width="1.1" fill="none"/>
<rect x="39.9" y="340.6" width="7.6" height="21.4" fill="#555555" stroke="#111" stroke-width="1.1"/>
<line x1="43.70" y1="362.00" x2="43.70" y2="365.30" stroke="#222" stroke-width="1.2"/>
<text x="43.70" y="335.50" font-size="7" text-anchor="middle" fill="#333">a</text>
<text x="45.5" y="371.7" font-size="7.6" text-anchor="end" fill="#333" transform="rotate(-45 45.5 371.7)">LFD</text>
<path d="M56.9,300.8V298.3M54.4,298.3H59.4" stroke="#111" stroke-width="1.1" fill="none"/>
<rect x="53.1" y="300.8" width="7.6" height="61.2" fill="#d4d4d4" stroke="#111" stroke-width="1.1"/>
<line x1="56.85" y1="362.00" x2="56.85" y2="365.30" stroke="#222" stroke-width="1.2"/>
<text x="56.85" y="295.80" font-size="7" text-anchor="middle" fill="#333">b</text>
<text x="58.6" y="371.7" font-size="7.6" text-anchor="end" fill="#333" transform="rotate(-45 58.6 371.7)">HFD</text>
<path d="M70.0,302.6V299.6M67.5,299.6H72.5" stroke="#111" stroke-width="1.1" fill="none"/>
<rect x="66.2" y="302.6" width="7.6" height="59.4" fill="#fde0e0" stroke="#111" stroke-width="1.1"/>
<line x1="70.00" y1="362.00" x2="70.00" y2="365.30" stroke="#222" stroke-width="1.2"/>
<text x="70.00" y="297.10" font-size="7" text-anchor="middle" fill="#333">b,c</text>
<text x="71.8" y="371.7" font-size="7.6" text-anchor="end" fill="#333" transform="rotate(-45 71.8 371.7)">M1</text>
<path d="M83.2,303.2V301.0M80.7,301.0H85.7" stroke="#111" stroke-width="1.1" fill="none"/>
<rect x="79.4" y="303.2" width="7.6" height="58.8" fill="#f28a8a" stroke="#111" stroke-width="1.1"/>
<line x1="83.15" y1="362.00" x2="83.15" y2="365.30" stroke="#222" stroke-width="1.2"/>
<text x="83.15" y="290.80" font-size="7" text-anchor="middle" fill="#333">b,c,</text>
<text x="83.15" y="299.80" font-size="7" text-anchor="middle" fill="#333">e</text>
<text x="85.0" y="371.7" font-size="7.6" text-anchor="end" fill="#333" transform="rotate(-45 85.0 371.7)">M2</text>
<path d="M96.3,308.8V307.0M93.8,307.0H98.8" stroke="#111" stroke-width="1.1" fill="none"/>
<rect x="92.5" y="308.8" width="7.6" height="53.2" fill="#e8202a" stroke="#111" stroke-width="1.1"/>
<line x1="96.30" y1="362.00" x2="96.30" y2="365.30" stroke="#222" stroke-width="1.2"/>
<text x="96.30" y="302.70" font-size="7" text-anchor="middle" fill="#333">c,e</text>
<text x="98.1" y="371.7" font-size="7.6" text-anchor="end" fill="#333" transform="rotate(-45 98.1 371.7)">M3</text>
<path d="M109.5,327.9V325.9M107.0,325.9H112.0" stroke="#111" stroke-width="1.1" fill="none"/>
<rect x="105.7" y="327.9" width="7.6" height="34.1" fill="#9e1a20" stroke="#111" stroke-width="1.1"/>
<line x1="109.45" y1="362.00" x2="109.45" y2="365.30" stroke="#222" stroke-width="1.2"/>
<text x="109.45" y="322.40" font-size="7" text-anchor="middle" fill="#333">d</text>
<text x="111.2" y="371.7" font-size="7.6" text-anchor="end" fill="#333" transform="rotate(-45 111.2 371.7)">M4</text>
<path d="M122.6,301.7V298.6M120.1,298.6H125.1" stroke="#111" stroke-width="1.1" fill="none"/>
<rect x="118.8" y="301.7" width="7.6" height="60.3" fill="#d2e4f6" stroke="#111" stroke-width="1.1"/>
<line x1="122.60" y1="362.00" x2="122.60" y2="365.30" stroke="#222" stroke-width="1.2"/>
<text x="122.60" y="295.30" font-size="7" text-anchor="middle" fill="#333">b,c</text>
<text x="124.4" y="371.7" font-size="7.6" text-anchor="end" fill="#333" transform="rotate(-45 124.4 371.7)">F1</text>
<path d="M135.8,302.6V300.2M133.2,300.2H138.2" stroke="#111" stroke-width="1.1" fill="none"/>
<rect x="131.9" y="302.6" width="7.6" height="59.4" fill="#6f9fdc" stroke="#111" stroke-width="1.1"/>
<line x1="135.75" y1="362.00" x2="135.75" y2="365.30" stroke="#222" stroke-width="1.2"/>
<text x="135.75" y="289.20" font-size="7" text-anchor="middle" fill="#333">b,c,</text>
<text x="135.75" y="297.60" font-size="7" text-anchor="middle" fill="#333">e</text>
<text x="137.6" y="371.7" font-size="7.6" text-anchor="end" fill="#333" transform="rotate(-45 137.6 371.7)">F2</text>
<path d="M148.9,302.6V300.2M146.4,300.2H151.4" stroke="#111" stroke-width="1.1" fill="none"/>
<rect x="145.1" y="302.6" width="7.6" height="59.4" fill="#3f63b9" stroke="#111" stroke-width="1.1"/>
<line x1="148.90" y1="362.00" x2="148.90" y2="365.30" stroke="#222" stroke-width="1.2"/>
<text x="148.90" y="296.30" font-size="7" text-anchor="middle" fill="#333">b,c</text>
<text x="150.7" y="371.7" font-size="7.6" text-anchor="end" fill="#333" transform="rotate(-45 150.7 371.7)">F3</text>
<path d="M162.1,310.8V308.6M159.6,308.6H164.6" stroke="#111" stroke-width="1.1" fill="none"/>
<rect x="158.2" y="310.8" width="7.6" height="51.2" fill="#1f2a6e" stroke="#111" stroke-width="1.1"/>
<line x1="162.05" y1="362.00" x2="162.05" y2="365.30" stroke="#222" stroke-width="1.2"/>
<text x="162.05" y="306.50" font-size="7" text-anchor="middle" fill="#333">d</text>
<text x="163.9" y="371.7" font-size="7.6" text-anchor="end" fill="#333" transform="rotate(-45 163.9 371.7)">F4</text>
<text x="185.40" y="264.00" font-size="7.2" text-anchor="start" fill="#333">(F)</text>
<line x1="212.60" y1="270.60" x2="212.60" y2="363.00" stroke="#222" stroke-width="1.3"/>
<line x1="212.00" y1="362.30" x2="349.00" y2="362.30" stroke="#222" stroke-width="1.4"/>
<line x1="210.00" y1="362.30" x2="212.60" y2="362.30" stroke="#222" stroke-width="1.1"/>
<text x="208.30" y="364.70" font-size="7.7" text-anchor="end" fill="#333">0</text>
<line x1="210.00" y1="332.06" x2="212.60" y2="332.06" stroke="#222" stroke-width="1.1"/>
<text x="208.30" y="334.46" font-size="7.7" text-anchor="end" fill="#333">50</text>
<line x1="210.00" y1="301.83" x2="212.60" y2="301.83" stroke="#222" stroke-width="1.1"/>
<text x="208.30" y="304.23" font-size="7.7" text-anchor="end" fill="#333" textLength="10.8" lengthAdjust="spacingAndGlyphs">100</text>
<line x1="210.00" y1="271.60" x2="212.60" y2="271.60" stroke="#222" stroke-width="1.1"/>
<text x="208.30" y="274.00" font-size="7.7" text-anchor="end" fill="#333" textLength="10.8" lengthAdjust="spacingAndGlyphs">150</text>
<line x1="222.30" y1="362.30" x2="222.30" y2="365.20" stroke="#222" stroke-width="1.1"/>
<text x="222.30" y="372.00" font-size="7.7" text-anchor="middle" fill="#333">1</text>
<line x1="241.75" y1="362.30" x2="241.75" y2="365.20" stroke="#222" stroke-width="1.1"/>
<text x="241.75" y="372.00" font-size="7.7" text-anchor="middle" fill="#333">2</text>
<line x1="261.20" y1="362.30" x2="261.20" y2="365.20" stroke="#222" stroke-width="1.1"/>
<text x="261.20" y="372.00" font-size="7.7" text-anchor="middle" fill="#333">3</text>
<line x1="280.65" y1="362.30" x2="280.65" y2="365.20" stroke="#222" stroke-width="1.1"/>
<text x="280.65" y="372.00" font-size="7.7" text-anchor="middle" fill="#333">4</text>
<line x1="300.10" y1="362.30" x2="300.10" y2="365.20" stroke="#222" stroke-width="1.1"/>
<text x="300.10" y="372.00" font-size="7.7" text-anchor="middle" fill="#333">5</text>
<line x1="319.55" y1="362.30" x2="319.55" y2="365.20" stroke="#222" stroke-width="1.1"/>
<text x="319.55" y="372.00" font-size="7.7" text-anchor="middle" fill="#333">6</text>
<line x1="339.00" y1="362.30" x2="339.00" y2="365.20" stroke="#222" stroke-width="1.1"/>
<text x="339.00" y="372.00" font-size="7.7" text-anchor="middle" fill="#333">7</text>
<text x="280.50" y="385.50" font-size="7.7" text-anchor="middle" fill="#333" textLength="26.9" lengthAdjust="spacingAndGlyphs">Time (d)</text>
<text x="191.8" y="316.9" font-size="7.4" text-anchor="middle" fill="#333" textLength="93.4" lengthAdjust="spacingAndGlyphs" transform="rotate(-90 191.8 316.9)">Average energy intake (kJ/d)</text>
<polyline points="222.3,299.9 241.8,314.0 261.2,321.7 280.6,315.7 300.1,322.0 319.6,322.0 339.0,325.4" fill="none" stroke="#bbb" stroke-width="0.8"/>
<polyline points="222.3,328.1 241.8,317.8 261.2,317.1 280.6,321.3 300.1,323.8 319.6,321.3 339.0,320.9" fill="none" stroke="#b01c24" stroke-width="1.3"/>
<rect x="221.1" y="298.6" width="2.5" height="2.5" fill="#fff" stroke="#111" stroke-width="0.9"/>
<circle cx="222.3" cy="328.1" r="1.4" fill="#7a1018" stroke="#111" stroke-width="0.8"/>
<path d="M241.8,311.6V316.4M240.4,311.6H243.1M240.4,316.4H243.1" stroke="#222" stroke-width="0.7" fill="none"/>
<rect x="240.5" y="312.8" width="2.5" height="2.5" fill="#fff" stroke="#111" stroke-width="0.9"/>
<circle cx="241.8" cy="317.8" r="1.4" fill="#7a1018" stroke="#111" stroke-width="0.8"/>
<path d="M261.2,319.3V324.1M259.9,319.3H262.5M259.9,324.1H262.5" stroke="#222" stroke-width="0.7" fill="none"/>
<rect x="259.9" y="320.4" width="2.5" height="2.5" fill="#fff" stroke="#111" stroke-width="0.9"/>
<circle cx="261.2" cy="317.1" r="1.4" fill="#7a1018" stroke="#111" stroke-width="0.8"/>
<path d="M280.6,313.3V318.1M279.3,313.3H281.9M279.3,318.1H281.9" stroke="#222" stroke-width="0.7" fill="none"/>
<rect x="279.4" y="314.4" width="2.5" height="2.5" fill="#fff" stroke="#111" stroke-width="0.9"/>
<circle cx="280.6" cy="321.3" r="1.4" fill="#7a1018" stroke="#111" stroke-width="0.8"/>
<path d="M300.1,319.6V324.4M298.8,319.6H301.4M298.8,324.4H301.4" stroke="#222" stroke-width="0.7" fill="none"/>
<rect x="298.9" y="320.8" width="2.5" height="2.5" fill="#fff" stroke="#111" stroke-width="0.9"/>
<circle cx="300.1" cy="323.8" r="1.4" fill="#7a1018" stroke="#111" stroke-width="0.8"/>
<path d="M319.6,319.6V324.4M318.2,319.6H320.9M318.2,324.4H320.9" stroke="#222" stroke-width="0.7" fill="none"/>
<rect x="318.3" y="320.8" width="2.5" height="2.5" fill="#fff" stroke="#111" stroke-width="0.9"/>
<circle cx="319.6" cy="321.3" r="1.4" fill="#7a1018" stroke="#111" stroke-width="0.8"/>
<path d="M339.0,323.0V327.8M337.7,323.0H340.3M337.7,327.8H340.3" stroke="#222" stroke-width="0.7" fill="none"/>
<rect x="337.8" y="324.1" width="2.5" height="2.5" fill="#fff" stroke="#111" stroke-width="0.9"/>
<circle cx="339.0" cy="320.9" r="1.4" fill="#7a1018" stroke="#111" stroke-width="0.8"/>
<line x1="221.10" y1="283.30" x2="221.10" y2="291.30" stroke="#555" stroke-width="0.9"/>
<line x1="223.20" y1="283.30" x2="223.20" y2="291.30" stroke="#555" stroke-width="0.9"/>
</svg></body></html>
